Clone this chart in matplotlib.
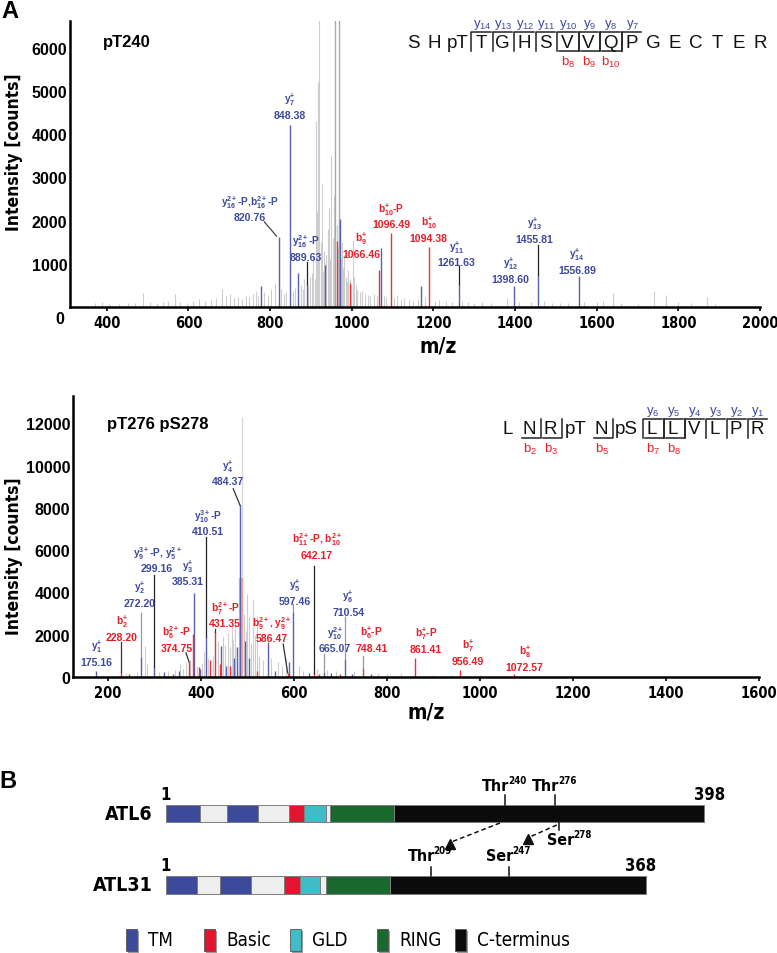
import matplotlib
matplotlib.use("Agg")
import matplotlib.pyplot as plt
from matplotlib.patches import Rectangle
from matplotlib import font_manager
from matplotlib.font_manager import FontProperties

plt.rcParams["font.family"] = ["Liberation Sans", "DejaVu Sans"]
plt.rcParams["mathtext.fontset"] = "custom"
plt.rcParams["mathtext.rm"] = "Liberation Sans"
plt.rcParams["mathtext.it"] = "Liberation Sans:italic"
plt.rcParams["mathtext.bf"] = "Liberation Sans:bold"


def find_narrow(bold):
    # a condensed sans face if the system has one, else None
    for f in font_manager.fontManager.ttflist:
        fn = f.fname.lower()
        if ("narrow" in fn or "condensed" in fn) and "mono" not in fn and "serif" not in fn:
            is_bold = f.weight in ("bold", 700, "700") or "bold" in fn
            if is_bold == bold and "italic" not in fn and "oblique" not in fn:
                return f.fname
    return None


NARROW_B = find_narrow(True)
NARROW_R = find_narrow(False)


def narrow(size, bold=True):
    fname = NARROW_B if bold else NARROW_R
    if fname:
        return FontProperties(fname=fname, size=size)
    return FontProperties(family="Liberation Sans", weight="bold" if bold else "normal",
                          size=size * 0.86)


W, H, DPI = 777, 954, 100

BLUE = "#5862b0"
BLUE_TXT = "#3d4a9f"
RED = "#e8333b"
RED_TXT = "#e61e28"
GRAY = "#cdcdcd"
GRAY_DARK = "#a9a9a9"
PINK = "#f3a4a4"

# ---------------- spectrum 1: pT240 ----------------
TOP_GRAY_MZ = [372, 388, 405, 430, 452, 470, 490, 505, 522, 538, 550, 567, 580, 596, 612,
               625, 640, 655, 668, 683, 693, 701, 712, 722, 731, 740, 748, 757, 765, 771,
               785, 795, 803, 811, 826, 833, 838, 857, 862, 875, 880, 884, 893, 898, 902,
               906, 909, 912, 915, 917, 919, 921, 924, 927, 929, 932, 935, 938, 941, 944,
               947, 950, 953, 956, 958, 963, 967, 973, 975, 978, 982, 985, 988, 991, 995,
               998, 1003, 1006, 1010, 1014, 1020, 1026, 1032, 1040, 1046, 1055, 1062, 1078,
               1085, 1104, 1112, 1120, 1128, 1140, 1150, 1162, 1180, 1205, 1215, 1230, 1245,
               1270, 1285, 1300, 1320, 1340, 1380, 1410, 1440, 1470, 1490, 1510, 1530, 1570,
               1600, 1615, 1640, 1660, 1700, 1740, 1770, 1800, 1830, 1870, 1890]
TOP_GRAY_INT = [90, 120, 70, 80, 100, 90, 320, 110, 90, 120, 150, 300, 120, 100, 140,
                180, 130, 160, 200, 420, 250, 310, 200, 240, 180, 260, 220, 300, 380, 260,
                350, 280, 420, 550, 420, 300, 350, 380, 450, 520, 420, 640, 500, 700, 780,
                1170, 650, 4300, 2200, 5200, 900, 9000, 1500, 2850, 800, 1300, 1000, 1200, 1800, 2300,
                1100, 3500, 1600, 2600, 1200, 1900, 1400, 1100, 1500, 900, 1200, 700, 600, 850, 650,
                500, 1550, 700, 500, 400, 350, 380, 300, 280, 250, 300, 260, 250,
                200, 200, 280, 180, 200, 170, 150, 180, 220, 150, 170, 140, 120,
                130, 120, 100, 110, 90, 200, 120, 110, 150, 100, 90, 100, 120,
                110, 130, 330, 100, 80, 370, 280, 120, 100, 220, 80]
TOP_TALL_MZ = [960, 970]
TOP_TALL_INT = [9000, 9000]
TOP_BLUE_MZ = [778, 820.76, 848.38, 868, 889.63, 935, 972, 1071, 1170, 1261.63, 1398.60, 1455.81, 1556.89]
TOP_BLUE_INT = [480, 1610, 4210, 780, 530, 980, 2040, 1365, 490, 530, 490, 740, 710]
TOP_RED_MZ = [965, 995, 1066.46, 1096.49, 1190]
TOP_RED_INT = [1530, 555, 865, 1710, 1400]

TOP_ION_NAMES = [r"$\mathbf{y_{16}^{2+}}$-P,$\mathbf{b_{16}^{2+}}$-P", r"$\mathbf{y_{7}^{+}}$",
                 r"$\mathbf{y_{16}^{2+}}$-P", r"$\mathbf{b_{9}^{+}}$", r"$\mathbf{b_{10}^{+}}$-P",
                 r"$\mathbf{b_{10}^{+}}$", r"$\mathbf{y_{11}^{+}}$", r"$\mathbf{y_{12}^{+}}$",
                 r"$\mathbf{y_{13}^{+}}$", r"$\mathbf{y_{14}^{+}}$"]
TOP_ION_VALUES = ["820.76", "848.38", "889.63", "1066.46", "1096.49", "1094.38",
                  "1261.63", "1398.60", "1455.81", "1556.89"]
TOP_ION_TYPES = ["y", "y", "y", "b", "b", "b", "y", "y", "y", "y"]
TOP_LABEL_POS = [(750, 2450), (848, 4810), (888, 1535), (1023, 1590), (1097, 2280),
                 (1188, 1975), (1256, 1400), (1389, 1020), (1447, 1945), (1552, 1225)]
TOP_LEADERS = [((786, 1970), (816, 1640), "#444444"), ((889.63, 1040), (889.63, 530), "#222222"),
               ((1261.63, 955), (1261.63, 530), "#222222"), ((1455.81, 1435), (1455.81, 740), "#222222")]

# ---------------- spectrum 2: pT276 pS278 ----------------
BOT_GRAY_MZ = [190, 240, 262, 280, 285, 300, 310, 330, 345, 355, 362, 368, 376, 392, 402,
               406, 415, 425, 437, 448, 452, 458, 462, 466, 470, 474, 478, 481, 484, 492,
               496, 500, 504, 508, 512, 516, 520, 526, 534, 550, 565, 575, 582, 610, 620,
               650, 672, 690, 730, 780, 800, 830, 900, 940, 1000]
BOT_GRAY_INT = [100, 180, 250, 1480, 600, 300, 250, 300, 350, 600, 400, 700, 800, 500, 650,
                1200, 900, 1000, 1700, 1900, 1500, 2100, 1400, 2400, 1800, 2600, 1300, 2200, 900, 3000,
                2200, 3930, 2840, 1600, 3700, 2000, 2900, 1000, 800, 900, 700, 500, 900, 500, 300,
                400, 350, 300, 300, 200, 150, 180, 100, 80, 90]
BOT_TALL_MZ = [489]
BOT_TALL_INT = [12300]
BOT_PINK_MZ = [487]
BOT_PINK_INT = [4700]
BOT_BLUE_MZ = [175.16, 272.20, 299.16, 320, 352, 385.31, 398, 410.51, 444, 455, 472, 478,
               484.37, 495, 503, 545, 560, 590, 597.46, 632, 665.07, 680, 710.54, 725]
BOT_BLUE_INT = [300, 930, 460, 260, 280, 3980, 400, 1880, 1450, 500, 900, 1400,
                8120, 1700, 900, 1640, 300, 700, 3070, 200, 250, 180, 850, 150]
BOT_RED_MZ = [228.20, 246, 340, 374.75, 382, 395, 420, 431.35, 440, 462, 520, 586.47,
              642.17, 655, 700, 748.41, 765, 861.41, 956.49, 1072.57]
BOT_RED_INT = [220, 120, 150, 700, 2040, 450, 800, 2120, 600, 500, 300, 200,
               200, 150, 150, 410, 120, 890, 330, 150]

BOT_ION_NAMES = [r"$\mathbf{y_{1}^{+}}$", r"$\mathbf{b_{2}^{+}}$", r"$\mathbf{y_{2}^{+}}$",
                 r"$\mathbf{y_{9}^{3+}}$-P, $\mathbf{y_{5}^{2+}}$", r"$\mathbf{y_{3}^{+}}$",
                 r"$\mathbf{b_{6}^{2+}}$-P", r"$\mathbf{y_{10}^{3+}}$-P", r"$\mathbf{b_{7}^{2+}}$-P",
                 r"$\mathbf{y_{4}^{+}}$", r"$\mathbf{b_{9}^{2+}}$, $\mathbf{y_{9}^{2+}}$",
                 r"$\mathbf{y_{5}^{+}}$", r"$\mathbf{b_{11}^{2+}}$-P, $\mathbf{b_{10}^{2+}}$",
                 r"$\mathbf{y_{10}^{2+}}$", r"$\mathbf{y_{6}^{+}}$", r"$\mathbf{b_{6}^{+}}$-P",
                 r"$\mathbf{b_{7}^{+}}$-P", r"$\mathbf{b_{7}^{+}}$", r"$\mathbf{b_{8}^{+}}$"]
BOT_ION_VALUES = ["175.16", "228.20", "272.20", "299.16", "385.31", "374.75", "410.51",
                  "431.35", "484.37", "586.47", "597.46", "642.17", "665.07", "710.54",
                  "748.41", "861.41", "956.49", "1072.57"]
BOT_ION_TYPES = ["y", "b", "y", "y", "y", "b", "y", "b", "y", "b", "y", "b", "y", "y",
                 "b", "b", "b", "b"]
BOT_LABEL_POS = [(176, 1480), (229.6, 2640), (267.6, 4250), (306, 5910), (371, 5280),
                 (348, 2150), (416, 7650), (451.6, 3300), (458.7, 10010), (552, 2590),
                 (602, 4360), (648.6, 6540), (688, 2120), (716.6, 3850), (766.8, 2150),
                 (883.5, 2085), (974, 1515), (1096, 1250)]
BOT_LEADERS = [((228.2, 1640), (228.2, 220), "#333333"), ((272.2, 3020), (272.2, 930), "#999999"),
               ((299.16, 4830), (299.16, 460), "#222222"), ((368, 1140), (374.75, 700), "#333333"),
               ((410.51, 6620), (410.51, 1880), "#222222"), ((431.35, 2275), (431.35, 2120), "#333333"),
               ((469.4, 8910), (484.37, 8120), "#333333"), ((577, 1560), (586.47, 200), "#333333"),
               ((597.46, 3460), (597.46, 3070), "#999999"), ((642.17, 5270), (642.17, 200), "#222222"),
               ((665.07, 1090), (665.07, 250), "#999999"), ((710.54, 2830), (710.54, 850), "#999999"),
               ((748.41, 980), (748.41, 410), "#999999")]

# ---------------- peptides ----------------
TOP_PEPTIDE = ["S", "H", "pT", "T", "G", "H", "S", "V", "V", "Q", "P", "G", "E", "C", "T", "E", "R"]
TOP_Y_IONS = [(3, 14), (4, 13), (5, 12), (6, 11), (7, 10), (8, 9), (9, 8), (10, 7)]
TOP_B_IONS = [(7, 8), (8, 9), (9, 10)]
BOT_PEPTIDE = ["L", "N", "R", "pT", "N", "pS", "L", "L", "V", "L", "P", "R"]
BOT_Y_IONS = [(6, 6), (7, 5), (8, 4), (9, 3), (10, 2), (11, 1)]
BOT_B_IONS = [(1, 2), (2, 3), (4, 5), (6, 7), (7, 8)]

# ---------------- panel B: domain maps ----------------
DOMAIN_COLORS = {"TM": "#3c4a9c", "gap": "#eeeeee", "Basic": "#e4132f",
                 "GLD": "#3fbcc8", "RING": "#19692f", "C-terminus": "#0b0b0b"}
ATL6_BOUNDS = [0, 25, 45, 68, 91, 102, 118, 121, 169, 398]
ATL31_BOUNDS = [0, 23, 40, 63, 87, 99, 114, 118, 166, 355]
DOMAIN_ORDER = ["TM", "gap", "TM", "gap", "Basic", "GLD", "gap", "RING", "C-terminus"]
ATL6_SITES_UP = [(251, "Thr", "240"), (288, "Thr", "276")]
ATL6_SITES_DOWN = [(291, "Ser", "278")]
ATL31_SITES_UP = [(196, "Thr", "209"), (254, "Ser", "247")]
ARROWS = [((247, 824), (211, 843)), ((289, 826), (269, 838))]
LEGEND_ITEMS = ["TM", "Basic", "GLD", "RING", "C-terminus"]


def draw_spectrum(ax, gray, tall, pink, blue, red, names, values, types, pos, leaders):
    ax.vlines(gray[0], 0, gray[1], color=GRAY, lw=0.8, zorder=1)
    ax.vlines(tall[0], 0, tall[1], color=tall[2], lw=1.0, zorder=1)
    if pink is not None:
        ax.vlines(pink[0], 0, pink[1], color=PINK, lw=3.0, zorder=1)
    ax.vlines(blue[0], 0, blue[1], color=BLUE, lw=1.0, zorder=2)
    ax.vlines(red[0], 0, red[1], color=RED, lw=1.0, zorder=2)
    for (x0, y0), (x1, y1), c in leaders:
        ax.plot([x0, x1], [y0, y1], color=c, lw=0.9, zorder=3, clip_on=False)
    for name, val, t, (x, y) in zip(names, values, types, pos):
        c = BLUE_TXT if t == "y" else RED_TXT
        ax.text(x, y, name, color=c, fontsize=7.3, fontweight="bold", ha="center",
                va="center", zorder=4)
        ax.annotate(val, (x, y), xytext=(0, -11.5), textcoords="offset points",
                    color=c, fontsize=7.6, fontweight="bold", ha="center", va="center",
                    zorder=4)
    for side in ("top", "right"):
        ax.spines[side].set_visible(False)
    for side in ("left", "bottom"):
        ax.spines[side].set_linewidth(1.8)
    ax.tick_params(axis="y", length=0, pad=2, labelsize=11.5)
    ax.tick_params(axis="x", length=3, width=1.2, pad=3)
    for lab in ax.get_yticklabels():
        lab.set_fontweight("bold")
    for lab in ax.get_xticklabels():
        lab.set_fontproperties(narrow(10.5))
    ax.set_facecolor("none")


def draw_peptide(ax, residues, x0, y, y_ions, b_ions, w1, wp):
    widths = [wp if r.startswith("p") else w1 for r in residues]
    xs = [x0]
    for i in range(1, len(residues)):
        xs.append(xs[-1] + (widths[i - 1] + widths[i]) / 2)
    for r, xc in zip(residues, xs):
        ax.text(xc, y, r, fontsize=13.5, ha="center", va="center", color="#111111")
    top, bot = y - 10, y + 9
    for idx, num in y_ions:
        left = xs[idx] - widths[idx] / 2 + 1
        ax.plot([left, left, left + widths[idx] - 2], [bot, top, top], color="#222222", lw=1.1)
        ax.text(xs[idx] + 1, y - 18, f"y$_{{{num}}}$", color=BLUE_TXT, fontsize=9.5,
                ha="center", va="center")
    for idx, num in b_ions:
        right = xs[idx] + widths[idx] / 2 + 1
        ax.plot([right - widths[idx] + 2, right, right], [bot, bot, top], color="#222222", lw=1.1)
        ax.text(xs[idx] + 1, y + 19, f"b$_{{{num}}}$", color=RED_TXT, fontsize=9.5,
                ha="center", va="center")


def site_label(ax, x, y, res, num, left=False):
    # residue name with a small raised number
    dx = 11 if left else 3
    ax.annotate(res, (x, y), fontproperties=narrow(11.5), ha="right", va="center",
                xytext=(dx, 0), textcoords="offset points")
    ax.annotate(num, (x, y), fontproperties=narrow(7), ha="left", va="center",
                xytext=(dx - 1.2, 4), textcoords="offset points")


fig = plt.figure(figsize=(W / DPI, H / DPI), dpi=DPI)

ax_top = fig.add_axes([70 / W, 1 - 308 / H, (760 - 70) / W, (308 - 22) / H])
ax_top.set_xlim(310, 2000)
ax_top.set_ylim(0, 6620)
ax_top.set_xticks(range(400, 2001, 200))
ax_top.set_yticks(range(1000, 6001, 1000))
draw_spectrum(ax_top, (TOP_GRAY_MZ, TOP_GRAY_INT), (TOP_TALL_MZ, TOP_TALL_INT, GRAY_DARK), None,
              (TOP_BLUE_MZ, TOP_BLUE_INT), (TOP_RED_MZ, TOP_RED_INT),
              TOP_ION_NAMES, TOP_ION_VALUES, TOP_ION_TYPES, TOP_LABEL_POS, TOP_LEADERS)

ax_bot = fig.add_axes([73 / W, 1 - 678 / H, (759 - 73) / W, (678 - 397) / H])
ax_bot.set_xlim(125, 1600)
ax_bot.set_ylim(0, 13300)
ax_bot.set_xticks(range(200, 1601, 200))
ax_bot.set_yticks(range(0, 12001, 2000))
draw_spectrum(ax_bot, (BOT_GRAY_MZ, BOT_GRAY_INT), (BOT_TALL_MZ, BOT_TALL_INT, "#dadada"),
              (BOT_PINK_MZ, BOT_PINK_INT), (BOT_BLUE_MZ, BOT_BLUE_INT), (BOT_RED_MZ, BOT_RED_INT),
              BOT_ION_NAMES, BOT_ION_VALUES, BOT_ION_TYPES, BOT_LABEL_POS, BOT_LEADERS)

# panel B axes: x in residues, y in image pixel rows
ax_b = fig.add_axes([0, 0, 1, 254 / H])
ax_b.set_xlim(-166 / 1.352, (W - 166) / 1.352)
ax_b.set_ylim(H, 700)
ax_b.axis("off")


def draw_protein(ax, bounds, top, height, name, end_label, end_x):
    for (a, b), dom in zip(zip(bounds[:-1], bounds[1:]), DOMAIN_ORDER):
        ax.add_patch(Rectangle((a, top), b - a, height, facecolor=DOMAIN_COLORS[dom],
                               edgecolor="#7d7d7d", lw=0.7))
    ax.text(-10, top + height / 2, name, fontproperties=narrow(14), ha="right", va="center")
    ax.text(0, top - 11, "1", fontproperties=narrow(12), ha="center", va="center")
    ax.text(end_x, top - 11, end_label, fontproperties=narrow(12), ha="center", va="center")


draw_protein(ax_b, ATL6_BOUNDS, 806, 17, "ATL6", "398", 402)
draw_protein(ax_b, ATL31_BOUNDS, 877, 18, "ATL31", "368", 351)
for x, res, num in ATL6_SITES_UP:
    ax_b.plot([x, x], [806, 796], color="#111111", lw=1.1)
    site_label(ax_b, x, 787, res, num)
for x, res, num in ATL6_SITES_DOWN:
    ax_b.plot([x, x], [823, 831], color="#111111", lw=1.1)
    site_label(ax_b, x, 841, res, num, left=True)
for x, res, num in ATL31_SITES_UP:
    ax_b.plot([x, x], [877, 868], color="#111111", lw=1.1)
    site_label(ax_b, x, 857, res, num)
for (x0, y0), (x1, y1) in ARROWS:
    ax_b.plot([x0, x1], [y0, y1], color="#111111", lw=1.1, ls=(0, (3, 2)))
    ax_b.plot([x1 - 1], [y1 + 2], marker="^", color="#111111", markersize=7)

# overlay for text in image pixel coordinates
ax_ov = fig.add_axes([0, 0, 1, 1])
ax_ov.set_xlim(0, W)
ax_ov.set_ylim(H, 0)
ax_ov.axis("off")
ax_ov.patch.set_visible(False)

ax_ov.text(10, 11, "A", fontsize=17, fontweight="bold", ha="center", va="center")
ax_ov.text(8, 782, "B", fontsize=17, fontweight="bold", ha="center", va="center")
ax_ov.text(103, 43, "pT240", fontsize=12, fontweight="bold", ha="left", va="center")
ax_ov.text(107, 425, "pT276 pS278", fontsize=12, fontweight="bold", ha="left", va="center")
ax_ov.text(60, 320, "0", fontsize=11.5, fontweight="bold", ha="center", va="center")
for yc in (152, 556):
    ax_ov.text(14, yc, "Intensity [counts]", fontproperties=narrow(12.5),
               rotation=90, ha="center", va="center")
ax_ov.text(438, 347, "m/z", fontproperties=narrow(15), ha="center", va="center")
ax_ov.text(426, 713, "m/z", fontproperties=narrow(15), ha="center", va="center")

draw_peptide(ax_ov, TOP_PEPTIDE, 413, 43, TOP_Y_IONS, TOP_B_IONS, 21.5, 25)
draw_peptide(ax_ov, BOT_PEPTIDE, 508, 430, BOT_Y_IONS, BOT_B_IONS, 21, 30)

legend_x = [126, 204, 290, 377, 455]
legend_colors = [DOMAIN_COLORS[k] for k in LEGEND_ITEMS]
for x, c, lab in zip(legend_x, legend_colors, LEGEND_ITEMS):
    ax_ov.add_patch(Rectangle((x + 2, 932), 11, 22, facecolor="#9a9a9a", edgecolor="none"))
    ax_ov.add_patch(Rectangle((x, 930), 11, 22, facecolor=c, edgecolor="#555555", lw=0.6))
    ax_ov.text(x + 22, 941, lab, fontproperties=narrow(13.5, bold=False), ha="left", va="center")

fig.savefig("out.png", dpi=DPI)
